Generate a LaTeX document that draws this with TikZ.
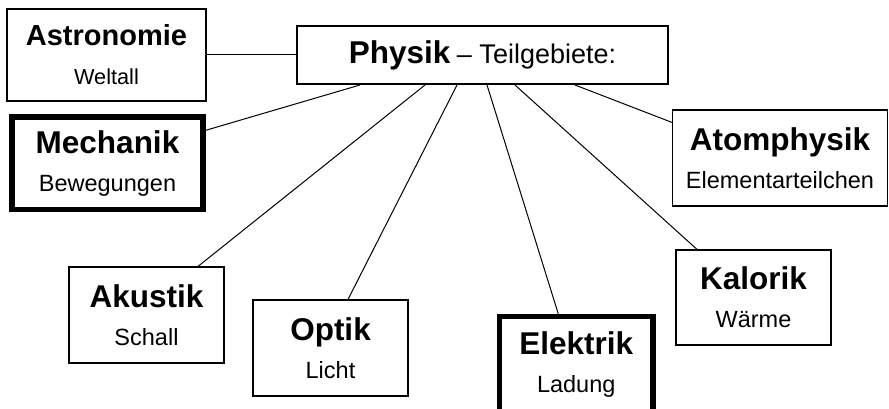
\documentclass[tikz,border=0pt]{standalone}
\usepackage{fontspec}
\setmainfont{Liberation Sans}
\newcommand\gross[1]{{\fontsize{31.5}{38}\selectfont\bfseries #1}}

\begin{document}
\begin{tikzpicture}[x=1pt,y=-1pt,line width=1pt,
        every node/.style = {shape=rectangle, draw, align=center,
            line width=1.2pt, inner sep=0pt,
            font=\fontsize{23.5}{38}\selectfont},
        feld/.style = {minimum width=155pt, minimum height=96pt},
        dick/.style = {line width=5.5pt}]
        \useasboundingbox (0,0) rectangle (889,409);
        \node[line width=2pt, minimum width=371pt, minimum height=58pt] (physik) at (482.5,55)
            {\gross{Physik} {\fontsize{27}{30}\selectfont -- Teilgebiete:}};
        \node[minimum width=199pt, minimum height=92pt,
            font=\fontsize{21.7}{39}\selectfont] (astro) at (106.5,55)
            {{\fontsize{29}{39}\selectfont\bfseries Astronomie}\\Weltall};
        \node[dick, minimum width=191pt, minimum height=92.5pt] (mech) at (107.5,163.3)
            {\gross{Mechanik}\\Bewegungen};
        \node[minimum width=215pt, minimum height=96pt] (atom) at (780,158)
            {\gross{Atomphysik}\\Elementarteilchen};
        \node[feld] (akustik) at (146.5,315) {\gross{Akustik}\\Schall};
        \node[feld] (optik) at (330.5,348) {\gross{Optik}\\Licht};
        \node[feld, dick, minimum width=153.5pt] (elektrik) at (576.25,364.5)
            {\gross{Elektrik}\\Ladung};
        \node[feld, minimum height=95pt] (kalorik) at (753.5,297.5) {\gross{Kalorik}\\Wärme};

        \draw (astro.east) -- (physik.west);
        \draw ([yshift=-16pt]mech.north east) -- ([xshift=-122.5pt]physik.south);
        \draw ([xshift=51.5pt]akustik.north) -- ([xshift=-57.5pt]physik.south);
        \draw ([xshift=17.5pt]optik.north) -- ([xshift=-25.5pt]physik.south);
        \draw ([xshift=-18pt]elektrik.north) -- ([xshift=4.5pt]physik.south);
        \draw ([xshift=-56.5pt]kalorik.north) -- ([xshift=32.5pt]physik.south);
        \draw ([yshift=-13pt]atom.north west) -- ([xshift=92.5pt]physik.south);
    \end{tikzpicture}
\end{document}
